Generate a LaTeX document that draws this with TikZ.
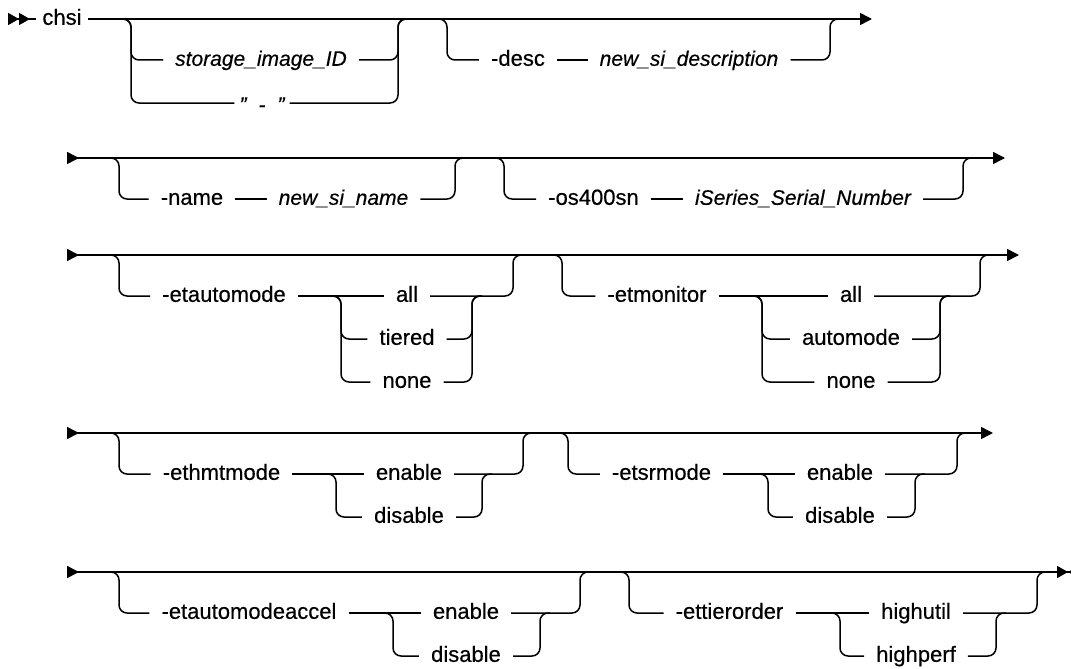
\documentclass[tikz,border=0pt]{standalone}
\usepackage{fontspec}
\setmainfont{Liberation Sans}[FakeBold=0.4]
\usetikzlibrary{arrows.meta,calc}
\newcommand{\railsize}{\fontsize{22}{26}\selectfont}
\tikzset{%
  % rails
  rail/.style={line width=1.5pt, rounded corners=8pt},
  rowrail/.style={rail, arrows={Triangle[reversed,length=12pt,width=12pt]-Triangle[length=12pt,width=12pt]}},
  % words on the rail
  kw/.style={anchor=mid, inner xsep=12pt, inner ysep=2pt, font=\railsize},
  var/.style={kw, font=\fontsize{21}{26}\selectfont\itshape},
  opt/.style={kw},
}

\begin{document}
\railsize% so that the mid anchors use the 22pt ex
\begin{tikzpicture}[x=1pt, y=-1pt]
  \useasboundingbox (0,0) rectangle (1071,669);

  % ---- row 1
  \coordinate (r1a) at (8,19);
  \coordinate (r1b) at (872,19);
  \node[kw, inner xsep=6pt] (chsi) at (62,19) {chsi};
  \draw[rail, arrows={Triangle[reversed,length=11pt,width=12pt]Triangle[reversed,length=11pt,width=12pt]-}] (r1a) -- (chsi.mid west);
  \draw[rail, -{Triangle[length=12pt,width=12pt]}] (chsi.mid east) -- (r1b);

  \coordinate (gAl) at (131,19);
  \coordinate (gAr) at (398,19);
  \node[var] (siid) at (261,60) {storage\_image\_ID};
  \node[var, inner xsep=5pt] (dq) at (262,103) {\raisebox{-3pt}{\symbol{34}\hspace{12pt}-\hspace{12pt}\symbol{34}}};
  \draw[rail] ([xshift=-10pt]gAl) -- (gAl) |- (siid.mid west);
  \draw[rail] ([xshift=-10pt]gAl) -- (gAl) |- (dq.mid west);
  \draw[rail] (siid.mid east) -| (gAr) -- ([xshift=10pt]gAr);
  \draw[rail] (dq.mid east) -| (gAr) -- ([xshift=10pt]gAr);

  \coordinate (gBl) at (447,19);
  \coordinate (gBr) at (830,19);
  \node[kw] (desc) at (518,60) {-desc};
  \node[var] (sidesc) at (689,60) {new\_si\_description};
  \draw[rail] ([xshift=-10pt]gBl) -- (gBl) |- (desc.mid west);
  \draw[rail] (desc.mid east) -- (sidesc.mid west);
  \draw[rail] (sidesc.mid east) -| (gBr) -- ([xshift=10pt]gBr);

  % ---- row 2
  \coordinate (r2a) at (67,158);
  \coordinate (r2b) at (1005,158);
  \draw[rowrail] (r2a) -- (r2b);

  \coordinate (gCl) at (119,158);
  \coordinate (gCr) at (455,158);
  \node[kw] (name) at (192,199) {-name};
  \node[var] (siname) at (343.5,199) {new\_si\_name};
  \draw[rail] ([xshift=-10pt]gCl) -- (gCl) |- (name.mid west);
  \draw[rail] (name.mid east) -- (siname.mid west);
  \draw[rail] (siname.mid east) -| (gCr) -- ([xshift=10pt]gCr);

  \coordinate (gDl) at (504,158);
  \coordinate (gDr) at (963,158);
  \node[kw] (os) at (593.5,199) {-os400sn};
  \node[var] (serial) at (803,199) {iSeries\_Serial\_Number};
  \draw[rail] ([xshift=-10pt]gDl) -- (gDl) |- (os.mid west);
  \draw[rail] (os.mid east) -- (serial.mid west);
  \draw[rail] (serial.mid east) -| (gDr) -- ([xshift=10pt]gDr);

  % ---- row 3
  \coordinate (r3a) at (67,255);
  \coordinate (r3b) at (1019,255);
  \draw[rowrail] (r3a) -- (r3b);

  \coordinate (gEl) at (119,255);
  \coordinate (gEr) at (513,255);
  \coordinate (sEl) at (341,296);
  \coordinate (sEr) at (472,296);
  \node[kw] (eta) at (224,296) {-etautomode};
  \node[opt] (etaAll) at (407,296) {all};
  \node[opt] (etaTier) at (407,339) {tiered};
  \node[opt] (etaNone) at (407,382) {none};
  \draw[rail] ([xshift=-10pt]gEl) -- (gEl) |- (eta.mid west);
  \draw[rail] (eta.mid east) -- (etaAll.mid west);
  \draw[rail] ([xshift=-10pt]sEl) -- (sEl) |- (etaTier.mid west);
  \draw[rail] ([xshift=-10pt]sEl) -- (sEl) |- (etaNone.mid west);
  \draw[rail] (etaTier.mid east) -| (sEr) -- ([xshift=10pt]sEr);
  \draw[rail] (etaNone.mid east) -| (sEr) -- ([xshift=10pt]sEr);
  \draw[rail] (etaAll.mid east) -| (gEr) -- ([xshift=10pt]gEr);

  \coordinate (gFl) at (562,255);
  \coordinate (gFr) at (980,255);
  \coordinate (sFl) at (762,296);
  \coordinate (sFr) at (940,296);
  \node[kw] (etm) at (657,296) {-etmonitor};
  \node[opt] (etmAll) at (851,296) {all};
  \node[opt] (etmAuto) at (851,339) {automode};
  \node[opt] (etmNone) at (851,382) {none};
  \draw[rail] ([xshift=-10pt]gFl) -- (gFl) |- (etm.mid west);
  \draw[rail] (etm.mid east) -- (etmAll.mid west);
  \draw[rail] ([xshift=-10pt]sFl) -- (sFl) |- (etmAuto.mid west);
  \draw[rail] ([xshift=-10pt]sFl) -- (sFl) |- (etmNone.mid west);
  \draw[rail] (etmAuto.mid east) -| (sFr) -- ([xshift=10pt]sFr);
  \draw[rail] (etmNone.mid east) -| (sFr) -- ([xshift=10pt]sFr);
  \draw[rail] (etmAll.mid east) -| (gFr) -- ([xshift=10pt]gFr);

  % ---- row 4
  \coordinate (r4a) at (67,433);
  \coordinate (r4b) at (993,433);
  \draw[rowrail] (r4a) -- (r4b);

  \coordinate (gGl) at (119,433);
  \coordinate (gGr) at (523,433);
  \coordinate (sGl) at (336,474);
  \coordinate (sGr) at (482,474);
  \node[kw] (eth) at (221.5,474) {-ethmtmode};
  \node[opt] (ethEn) at (409,474) {enable};
  \node[opt] (ethDis) at (409,517) {disable};
  \draw[rail] ([xshift=-10pt]gGl) -- (gGl) |- (eth.mid west);
  \draw[rail] (eth.mid east) -- (ethEn.mid west);
  \draw[rail] ([xshift=-10pt]sGl) -- (sGl) |- (ethDis.mid west);
  \draw[rail] (ethDis.mid east) -| (sGr) -- ([xshift=10pt]sGr);
  \draw[rail] (ethEn.mid east) -| (gGr) -- ([xshift=10pt]gGr);

  \coordinate (gHl) at (568,433);
  \coordinate (gHr) at (957,433);
  \coordinate (sHl) at (768,474);
  \coordinate (sHr) at (915,474);
  \node[kw] (ets) at (661.5,474) {-etsrmode};
  \node[opt] (etsEn) at (840,474) {enable};
  \node[opt] (etsDis) at (840,517) {disable};
  \draw[rail] ([xshift=-10pt]gHl) -- (gHl) |- (ets.mid west);
  \draw[rail] (ets.mid east) -- (etsEn.mid west);
  \draw[rail] ([xshift=-10pt]sHl) -- (sHl) |- (etsDis.mid west);
  \draw[rail] (etsDis.mid east) -| (sHr) -- ([xshift=10pt]sHr);
  \draw[rail] (etsEn.mid east) -| (gHr) -- ([xshift=10pt]gHr);

  % ---- row 5
  \coordinate (r5a) at (67,572);
  \coordinate (r5b) at (1079,572);
  \draw[rail, arrows={Triangle[reversed,length=12pt,width=12pt]-Triangle[length=11pt,width=12pt]Triangle[reversed,length=11pt,width=12pt]}] (r5a) -- (r5b);

  \coordinate (gIl) at (119,572);
  \coordinate (gIr) at (580,572);
  \coordinate (sIl) at (393,613);
  \coordinate (sIr) at (540,613);
  \node[kw] (etx) at (249,613) {-etautomodeaccel};
  \node[opt] (etxEn) at (466,613) {enable};
  \node[opt] (etxDis) at (466,656) {disable};
  \draw[rail] ([xshift=-10pt]gIl) -- (gIl) |- (etx.mid west);
  \draw[rail] (etx.mid east) -- (etxEn.mid west);
  \draw[rail] ([xshift=-10pt]sIl) -- (sIl) |- (etxDis.mid west);
  \draw[rail] (etxDis.mid east) -| (sIr) -- ([xshift=10pt]sIr);
  \draw[rail] (etxEn.mid east) -| (gIr) -- ([xshift=10pt]gIr);

  \coordinate (gJl) at (629,572);
  \coordinate (gJr) at (1037,572);
  \coordinate (sJl) at (840,613);
  \coordinate (sJr) at (996,613);
  \node[kw] (ett) at (729.5,613) {-ettierorder};
  \node[opt] (ettUtil) at (916,613) {highutil};
  \node[opt] (ettPerf) at (916,656) {highperf};
  \draw[rail] ([xshift=-10pt]gJl) -- (gJl) |- (ett.mid west);
  \draw[rail] (ett.mid east) -- (ettUtil.mid west);
  \draw[rail] ([xshift=-10pt]sJl) -- (sJl) |- (ettPerf.mid west);
  \draw[rail] (ettPerf.mid east) -| (sJr) -- ([xshift=10pt]sJr);
  \draw[rail] (ettUtil.mid east) -| (gJr) -- ([xshift=10pt]gJr);
\end{tikzpicture}
\end{document}
